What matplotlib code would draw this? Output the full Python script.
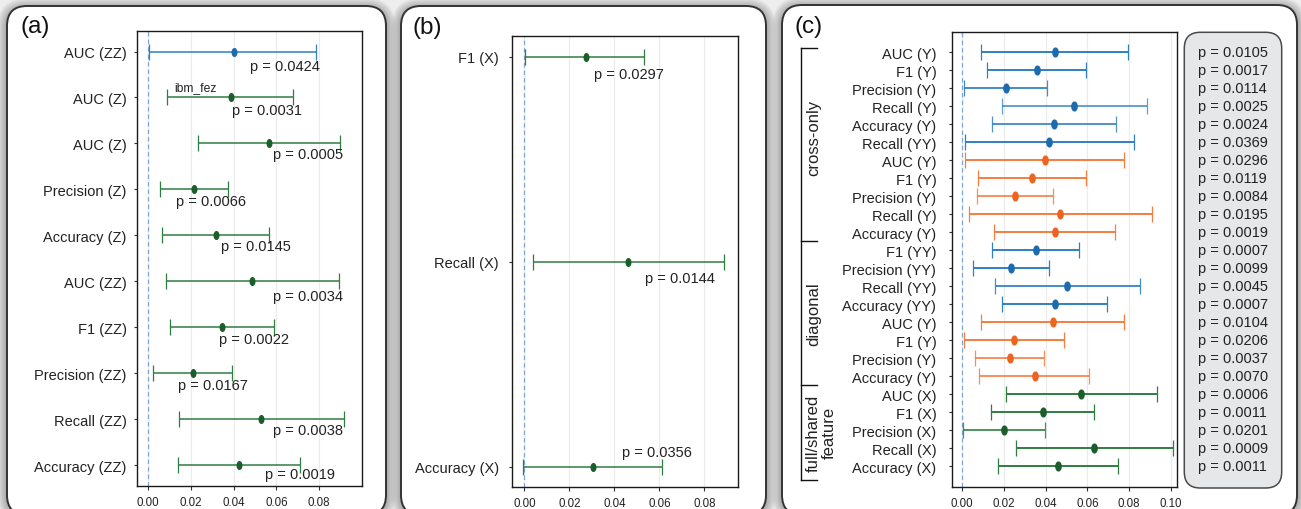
import numpy as np
import matplotlib
matplotlib.use("Agg")
import matplotlib.pyplot as plt
from matplotlib.patches import FancyBboxPatch
from matplotlib.path import Path
import matplotlib.transforms as mtransforms

plt.rcParams['font.family'] = ['Liberation Sans', 'DejaVu Sans']

# ---------------- data ----------------
# panel (a)
a_labels = ["AUC (ZZ)", "AUC (Z)", "AUC (Z)", "Precision (Z)", "Accuracy (Z)",
            "AUC (ZZ)", "F1 (ZZ)", "Precision (ZZ)", "Recall (ZZ)", "Accuracy (ZZ)"]
a_mean = [0.0400, 0.0388, 0.0566, 0.0215, 0.0318, 0.0487, 0.0345, 0.0211, 0.0529, 0.0426]
a_lo = [0.0005, 0.0090, 0.0234, 0.0056, 0.0066, 0.0084, 0.0102, 0.0026, 0.0145, 0.0140]
a_hi = [0.0786, 0.0678, 0.0898, 0.0374, 0.0566, 0.0894, 0.0589, 0.0392, 0.0915, 0.0711]
a_p = ["0.0424", "0.0031", "0.0005", "0.0066", "0.0145", "0.0034", "0.0022", "0.0167", "0.0038", "0.0019"]
a_group = ["blue", "green", "green", "green", "green", "green", "green", "green", "green", "green"]
a_note = "ibm_fez"

# panel (b)
b_labels = ["F1 (X)", "Recall (X)", "Accuracy (X)"]
b_mean = [0.0273, 0.0461, 0.0305]
b_lo = [0.0003, 0.0037, -0.0004]
b_hi = [0.0533, 0.0885, 0.0611]
b_p = ["0.0297", "0.0144", "0.0356"]
b_group = ["green", "green", "green"]

# panel (c)
c_labels = ["AUC (Y)", "F1 (Y)", "Precision (Y)", "Recall (Y)", "Accuracy (Y)", "Recall (YY)",
            "AUC (Y)", "F1 (Y)", "Precision (Y)", "Recall (Y)", "Accuracy (Y)",
            "F1 (YY)", "Precision (YY)", "Recall (YY)", "Accuracy (YY)",
            "AUC (Y)", "F1 (Y)", "Precision (Y)", "Accuracy (Y)",
            "AUC (X)", "F1 (X)", "Precision (X)", "Recall (X)", "Accuracy (X)"]
c_mean = [0.0443, 0.0357, 0.0211, 0.0537, 0.0440, 0.0418,
          0.0397, 0.0336, 0.0254, 0.0470, 0.0445,
          0.0353, 0.0236, 0.0502, 0.0443,
          0.0434, 0.0250, 0.0228, 0.0349,
          0.0568, 0.0386, 0.0201, 0.0633, 0.0461]
c_lo = [0.0089, 0.0121, 0.0011, 0.0193, 0.0145, 0.0013,
        0.0016, 0.0078, 0.0073, 0.0032, 0.0155,
        0.0142, 0.0054, 0.0158, 0.0193,
        0.0089, 0.0008, 0.0064, 0.0083,
        0.0209, 0.0137, 0.0005, 0.0260, 0.0174]
c_hi = [0.0796, 0.0595, 0.0408, 0.0885, 0.0737, 0.0821,
        0.0775, 0.0595, 0.0434, 0.0908, 0.0734,
        0.0561, 0.0418, 0.0850, 0.0694,
        0.0777, 0.0490, 0.0394, 0.0609,
        0.0932, 0.0632, 0.0397, 0.1011, 0.0748]
c_p = ["0.0105", "0.0017", "0.0114", "0.0025", "0.0024", "0.0369",
       "0.0296", "0.0119", "0.0084", "0.0195", "0.0019",
       "0.0007", "0.0099", "0.0045", "0.0007",
       "0.0104", "0.0206", "0.0037", "0.0070",
       "0.0006", "0.0011", "0.0201", "0.0009", "0.0011"]
c_group = ["blue"] * 6 + ["orange"] * 5 + ["blue"] * 4 + ["orange"] * 4 + ["green"] * 5
c_sections = ["cross-only", "diagonal", "full/shared\nfeature"]
c_section_bounds = [(-0.5, 10.5), (10.5, 18.5), (18.5, 23.8)]

# ---------------- styles ----------------
LINE = {"blue": "#2f80c2", "orange": "#f57d3e", "green": "#2f7d40"}
MARK = {"blue": "#1d6aad", "orange": "#ec6420", "green": "#1b5e2b"}
c_alpha = [1, 1, 0.9, 0.75, 0.85, 1, 1, 1, 0.85, 1, 1,
           1, 1, 0.9, 1, 1, 1, 0.85, 0.85, 1, 1, 0.85, 1, 1]
# p-label placement (x of text left edge in data units, vertical offset in px; + = below)
a_ptx = [0.0477, 0.0393, 0.0585, 0.0131, 0.0342, 0.0585, 0.0332, 0.0140, 0.0585, 0.0547]
a_pdy = [14, 13, 11, 12, 11, 14.5, 12, 12, 11, 9]
b_ptx = [0.0310, 0.0536, 0.0434]
b_pdy = [17, 16.3, -14.7]

W, H = 1301, 510
fig = plt.figure(figsize=(W / 100, H / 100), dpi=100, facecolor='#eeeeee')
bg = fig.add_axes([0, 0, 1, 1], zorder=0)
bg.set_xlim(0, W)
bg.set_ylim(H, 0)
bg.axis('off')


def rbox(x0, y0, x1, y1, r, fc, ec, lw, z=1, alpha=1.0):
    p = FancyBboxPatch((x0, y0), x1 - x0, y1 - y0,
                       boxstyle=f"round,pad=0,rounding_size={r}",
                       fc=fc, ec=ec, lw=lw, zorder=z, alpha=alpha)
    bg.add_patch(p)


panels = [(7, 7, 386, 516), (401, 7, 766, 516), (782, 6, 1297, 516)]
for (x0, y0, x1, y1) in panels:
    for k in range(10, 0, -1):
        rbox(x0 - k, y0 - k + 2, x1 + k, y1 + k, 20 + k, 'black', 'none', 0, z=0.5, alpha=0.03)
for (x0, y0, x1, y1) in panels:
    rbox(x0, y0, x1, y1, 20, 'white', '#333333', 1.4, z=1)

# p-value box of (c)
rbox(1184.3, 33.3, 1281.7, 489, 16, '#e6e7e9', '#4a4a4a', 1.1, z=2)

for txt, x, y in [("(a)", 21, 27), ("(b)", 412, 28), ("(c)", 794, 27)]:
    bg.text(x, y, txt, fontsize=17.5, ha='left', va='center', color='#111111')

t = np.linspace(0, 2 * np.pi, 41)
ELL = Path(np.column_stack([0.6 * np.cos(t), np.sin(t)]))

TXT = '#222222'


def make_ax(rect, labels, mean, lo, hi, groups, alphas, xlim, ylim, xticks, ms, lw, cap, ypad):
    ax = fig.add_axes(rect, zorder=3)
    n = len(labels)
    ys = np.arange(n)
    for i in range(n):
        g = groups[i]
        ax.errorbar(mean[i], ys[i], xerr=[[mean[i] - lo[i]], [hi[i] - mean[i]]],
                    fmt='none', ecolor=LINE[g], elinewidth=lw, capsize=cap,
                    capthick=0.9, alpha=alphas[i], zorder=3)
        ax.plot(mean[i], ys[i], marker=ELL, ms=ms, color=MARK[g], mec=MARK[g],
                ls='none', zorder=4)
    ax.axvline(0, color='#7aa6dc', ls=(0, (3.5, 2.5)), lw=0.9, zorder=2)
    ax.set_xlim(*xlim)
    ax.set_ylim(*ylim)
    ax.set_xticks(xticks)
    ax.set_xticklabels([f"{v:.2f}" for v in xticks])
    ax.set_yticks(ys)
    ax.set_yticklabels(labels)
    ax.grid(axis='x', color='#ebebeb', lw=0.8, zorder=0)
    ax.grid(axis='y', visible=False)
    ax.set_axisbelow(True)
    ax.tick_params(axis='y', labelsize=10.5, length=2.5, width=0.8, pad=ypad, colors='#333333',
                   labelcolor=TXT)
    ax.tick_params(axis='x', labelsize=8.3, length=3, width=0.8, pad=4, colors='#333333',
                   labelcolor=TXT)
    for s in ax.spines.values():
        s.set_linewidth(1.0)
        s.set_color('#1a1a1a')
    return ax


# ---- (a)
axa = make_ax([137 / W, 1 - 487.3 / H, (362 - 137) / W, (487.3 - 32.3) / H],
              a_labels, a_mean, a_lo, a_hi, a_group, [1] * len(a_labels),
              (-0.0051, 0.1000), (9.46, -0.44), [0, 0.02, 0.04, 0.06, 0.08],
              5.5, 1.1, 5.5, 5)
for i in range(len(a_labels)):
    axa.annotate(f"p = {a_p[i]}", xy=(a_ptx[i], i), xytext=(0, -a_pdy[i] * 0.72),
                 textcoords='offset points', ha='left', va='center', fontsize=10.5, color=TXT)
axa.annotate(a_note, xy=(0.0122, 1), xytext=(0, 10.7 * 0.72), textcoords='offset points',
             ha='left', va='center', fontsize=8.7, color=TXT)

# ---- (b)
axb = make_ax([512 / W, 1 - 488.3 / H, (737.7 - 512) / W, (488.3 - 37.3) / H],
              b_labels, b_mean, b_lo, b_hi, b_group, [1] * len(b_labels),
              (-0.0055, 0.0948), (2.1, -0.1), [0, 0.02, 0.04, 0.06, 0.08],
              5.5, 1.1, 5.5, 7)
for i in range(len(b_labels)):
    axb.annotate(f"p = {b_p[i]}", xy=(b_ptx[i], i), xytext=(0, -b_pdy[i] * 0.72),
                 textcoords='offset points', ha='left', va='center', fontsize=10.5, color=TXT)

# ---- (c)
axc = make_ax([952.3 / W, 1 - 488.3 / H, (1177 - 952.3) / W, (488.3 - 33.3) / H],
              c_labels, c_mean, c_lo, c_hi, c_group, c_alpha,
              (-0.0046, 0.1029), (24.18, -1.11), [0, 0.02, 0.04, 0.06, 0.08, 0.10],
              6.3, 1.4, 6, 9)
tr = mtransforms.blended_transform_factory(axc.transAxes, axc.transData)
for i, p in enumerate(c_p):
    axc.text(1.095, i, f"p = {p}", transform=tr, ha='left', va='center', fontsize=10.5,
             color=TXT, clip_on=False)

xb, xt = -0.673, -0.602
ymin = min(b[0] for b in c_section_bounds) + 0.25
ymax = max(b[1] for b in c_section_bounds)
axc.plot([xb, xb], [ymin, ymax], transform=tr, clip_on=False, color='#111111', lw=1.0)
edges = [ymin] + [b[1] for b in c_section_bounds]
for yb in edges:
    axc.plot([xb, xt], [yb, yb], transform=tr, clip_on=False, color='#111111', lw=1.0)
sec_x = [-0.618, -0.618, -0.583]
sec_y = [4.7, 14.5, 21.1]
for name, sx, sy in zip(c_sections, sec_x, sec_y):
    axc.text(sx, sy, name, transform=tr, rotation=90, ha='center', va='center',
             multialignment='center', fontsize=12, color=TXT, clip_on=False,
             linespacing=1.15)

fig.savefig("out.png", dpi=100, facecolor=fig.get_facecolor())
